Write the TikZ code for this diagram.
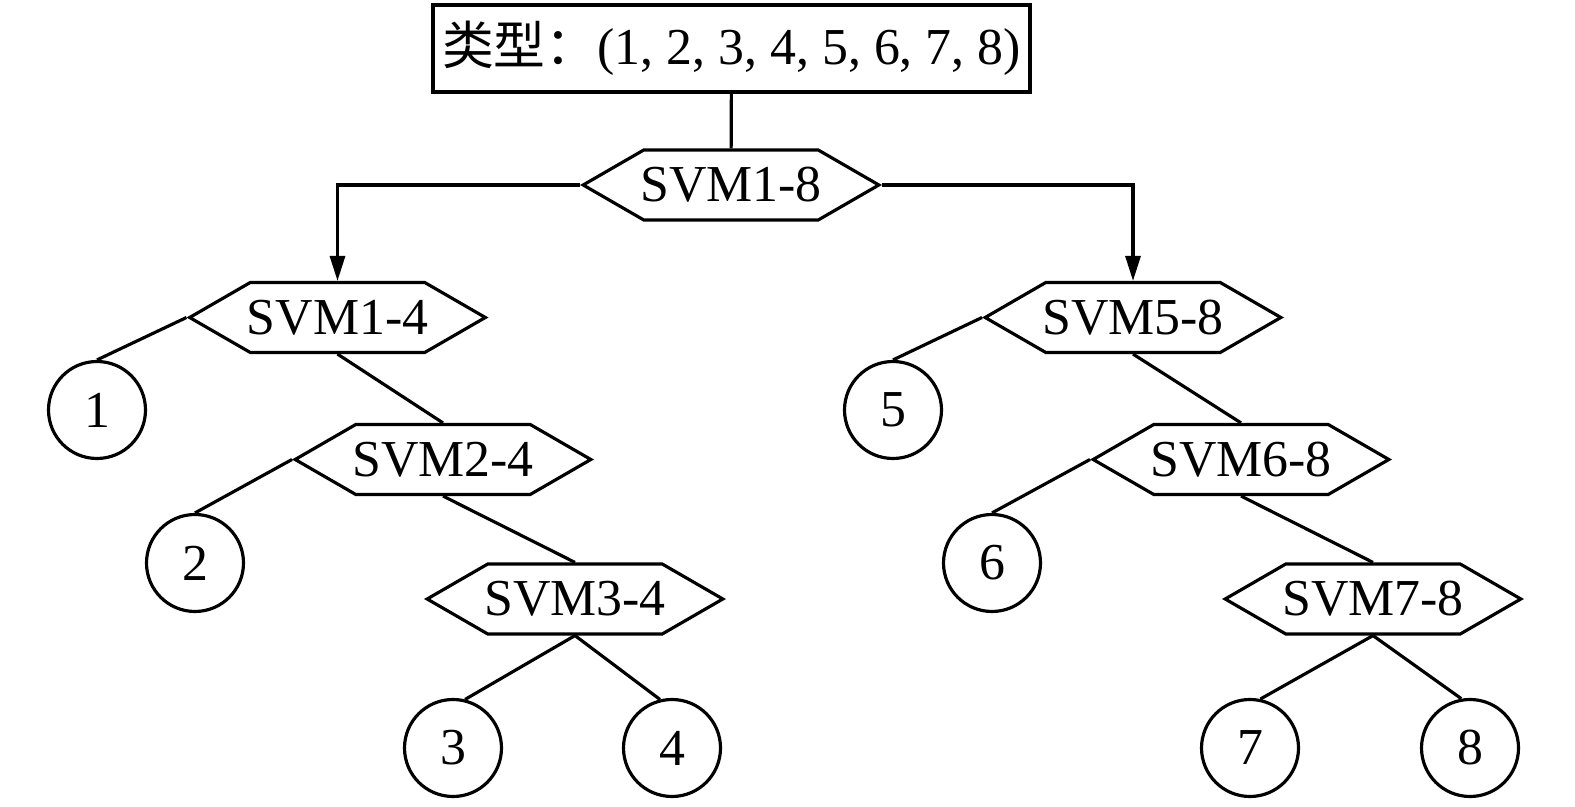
\documentclass[tikz,border=0pt]{standalone}
\usepackage{fontspec}
\setmainfont{Liberation Serif}
\newfontfamily\cjk{Noto Sans CJK SC}
\usepackage{tikz}
\usetikzlibrary{positioning,shapes.symbols,arrows.meta}

\begin{document}
\begin{tikzpicture}[line width=1.8pt,
      font=\fontsize{29.5}{34}\selectfont,
      svm/.style={draw, signal, signal to=west and east, signal pointer angle=60,
                  minimum height=1.4cm, inner xsep=-2pt, inner ysep=0pt, fill=white},
      leaf/.style={draw, circle, minimum size=1.94cm, inner sep=0pt},
      tip/.style={-{Triangle[length=0.5cm,width=0.3cm]}}]
      \useasboundingbox (0, 0) rectangle (31.5, 16.14);
      % root box and first classifier
      \node (root) [draw, minimum width=11.94cm, minimum height=1.74cm, inner sep=0pt]
            at (14.63, 15.17) {{\cjk 类型：}(1, 2, 3, 4, 5, 6, 7, 8)};
      \node (s18) [svm] at (14.62, 12.44) {SVM1-8};
      % left branch
      \node (s14) [svm] at (6.75, 9.79) {SVM1-4};
      \node (s24) [svm] at (8.86, 6.95) {SVM2-4};
      \node (s34) [svm] at (11.5, 4.16) {SVM3-4};
      \node (n1) [leaf] at (1.94, 7.94) {1};
      \node (n2) [leaf] at (3.9, 4.88) {2};
      \node (n3) [leaf] at (9.06, 1.18) {3};
      \node (n4) [leaf] at (13.44, 1.18) {4};
      % right branch
      \node (s58) [svm] at (22.66, 9.79) {SVM5-8};
      \node (s68) [svm] at (24.82, 6.95) {SVM6-8};
      \node (s78) [svm] at (27.46, 4.16) {SVM7-8};
      \node (n5) [leaf] at (17.86, 7.94) {5};
      \node (n6) [leaf] at (19.84, 4.88) {6};
      \node (n7) [leaf] at (25.0, 1.18) {7};
      \node (n8) [leaf] at (29.4, 1.18) {8};
      % connectors
      \draw (root) -- (s18);
      \draw[tip] (s18.west) -| (s14.north);
      \draw[tip] (s18.east) -| (s58.north);
      \draw (s14.west) -- (n1.north)
            (s14.south) -- (s24.north)
            (s24.west) -- (n2.north)
            (s24.south) -- (s34.north)
            (s34.south) -- (n3.76)
            (s34.south) -- (n4.104);
      \draw (s58.west) -- (n5.north)
            (s58.south) -- (s68.north)
            (s68.west) -- (n6.north)
            (s68.south) -- (s78.north)
            (s78.south) -- (n7.78)
            (s78.south) -- (n8.100);
\end{tikzpicture}
\end{document}
